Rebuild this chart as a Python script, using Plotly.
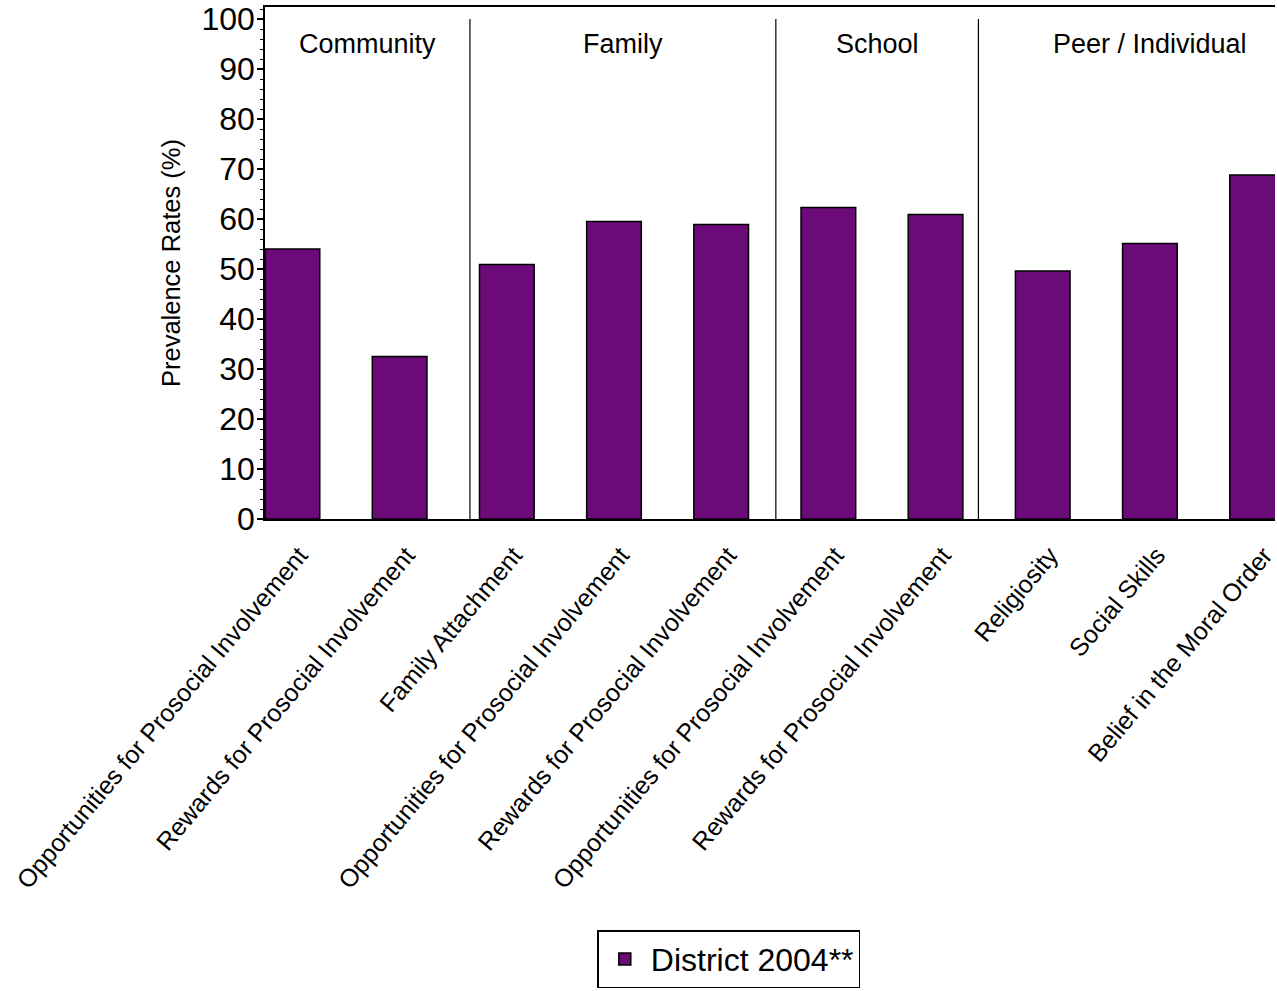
import plotly.graph_objects as go

categories = [
    "Opportunities for Prosocial Involvement",
    "Rewards for Prosocial Involvement",
    "Family Attachment",
    "Opportunities for Prosocial Involvement",
    "Rewards for Prosocial Involvement",
    "Opportunities for Prosocial Involvement",
    "Rewards for Prosocial Involvement",
    "Religiosity",
    "Social Skills",
    "Belief in the Moral Order",
]
values_2004 = [54.0, 32.5, 50.9, 59.5, 58.9, 62.3, 60.9, 49.6, 55.1, 68.8]
series_name = "District 2004**"

group_names = ["Community", "Family", "School", "Peer / Individual"]
# group boundaries in category-axis units (left edge, separators, right edge)
group_bounds = [-0.256, 1.656, 4.51, 6.40, 9.61]

y_tick_vals = [0, 10, 20, 30, 40, 50, 60, 70, 80, 90, 100]

FONT = "Arial, Liberation Sans, sans-serif"
PURPLE = "#6C0A79"

x_pos = list(range(len(categories)))

fig = go.Figure()
fig.add_trace(go.Bar(
    x=x_pos,
    y=values_2004,
    name=series_name,
    width=0.51,
    marker=dict(color=PURPLE, line=dict(color="black", width=1.5)),
    showlegend=True,
))

shapes = []
annotations = []
for b in group_bounds[1:-1]:
    shapes.append(dict(type="line", xref="x", yref="y", x0=b, x1=b, y0=0, y1=100,
                       line=dict(color="black", width=1.2)))
for i, g in enumerate(group_names):
    cx = (group_bounds[i] + group_bounds[i + 1]) / 2
    annotations.append(dict(x=cx, y=95, xref="x", yref="y", text=g, showarrow=False,
                            font=dict(family=FONT, size=27, color="black"),
                            xanchor="center", yanchor="middle"))

fig.update_layout(
    width=1277, height=991,
    margin=dict(l=265, r=0, t=7, b=472),
    paper_bgcolor="white", plot_bgcolor="white",
    font=dict(family=FONT, color="black"),
    shapes=shapes,
    annotations=annotations,
    legend=dict(
        x=0.329, y=-0.803, xanchor="left", yanchor="top",
        orientation="h", itemwidth=42,
        bgcolor="white", bordercolor="black", borderwidth=1.5,
        font=dict(family=FONT, size=32, color="black"),
    ),
    showlegend=True,
)

fig.update_xaxes(
    range=[-0.256, 9.167],
    tickmode="array", tickvals=x_pos, ticktext=categories,
    tickangle=-50,
    tickfont=dict(family=FONT, size=25, color="black"),
    ticklabelstandoff=10, ticklabelshift=7, ticklabeloverflow="allow",
    showline=True, linecolor="black", linewidth=1.5, mirror=True,
    ticks="", showgrid=False, zeroline=False,
)
fig.update_yaxes(
    range=[0, 102.4],
    tickmode="array", tickvals=y_tick_vals,
    tickfont=dict(family=FONT, size=32, color="black"),
    ticks="outside", ticklen=6, tickwidth=1.5, tickcolor="black",
    ticklabelstandoff=-4,
    minor=dict(dtick=2, ticks="outside", ticklen=3, tickwidth=1, tickcolor="black", showgrid=False),
    showline=True, linecolor="black", linewidth=1.5,
    showgrid=False, zeroline=False,
    title=dict(text="Prevalence Rates (%)", font=dict(family=FONT, size=25.5, color="black"), standoff=14),
)

fig.write_html(
    "out.html",
    config={"displayModeBar": False},
    post_script="document.body.style.margin='0';document.body.style.overflow='hidden';",
)
